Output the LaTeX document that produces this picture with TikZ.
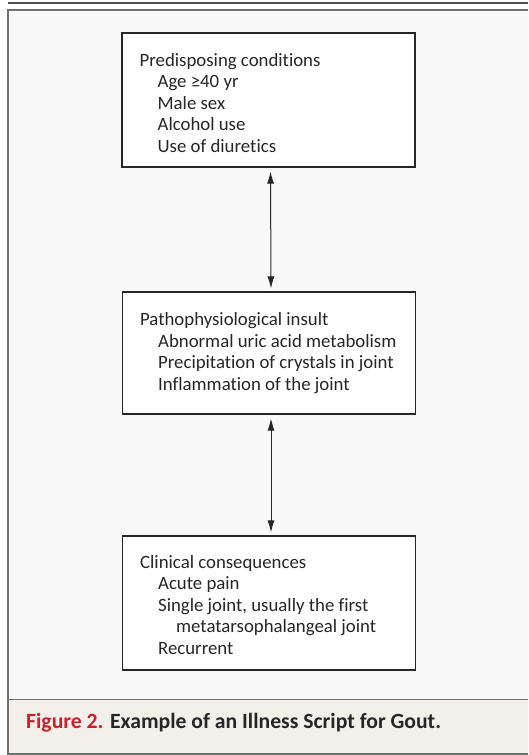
\documentclass[tikz,border=0pt]{standalone}
\usepackage{fontspec}
\setmainfont{Carlito}[Ligatures=NoCommon]
\usepackage{xcolor}
\usetikzlibrary{positioning, arrows.meta}

\definecolor{panelgray}{HTML}{F8F8F8}
\definecolor{captionbg}{HTML}{F3F0EA}
\definecolor{framegray}{HTML}{707070}
\definecolor{figred}{HTML}{C8202E}
\definecolor{inkdark}{HTML}{262626}

\tikzset{
  scriptbox/.style={draw=inkdark, line width=1.1pt, fill=white, minimum width=293pt},
  boxtext/.style={inner sep=0pt, align=left, text=inkdark,
    font=\fontsize{18.8}{21.5}\selectfont},
  linkarrow/.style={<->, >={Latex[length=12pt, width=7pt]}, line width=1pt,
    draw=inkdark, shorten >=3pt, shorten <=4pt},
}
\newcommand{\ind}{\hspace*{18pt}}

\begin{document}
\begin{tikzpicture}[x=1pt, y=-1pt]
        \useasboundingbox (0,0) rectangle (528,755);
        % panel and caption strip
        \fill[panelgray] (8,10) rectangle (528,699);
        \fill[captionbg] (8,699) rectangle (528,754);
        \draw[framegray, line width=1.5pt] (528,10) -- (8,10) -- (8,754) -- (528,754);
        \draw[framegray, line width=1pt] (8,699) -- (528,699);
        \draw[inkdark!80, line width=2pt] (8,3) -- (528,3);

        % boxes
        \node[scriptbox, minimum height=134pt] (predisp) at (268.5,100) {};
        \node[scriptbox, minimum height=122pt] (insult) at (269,353) {};
        \node[scriptbox, minimum height=134pt] (conseq) at (269,603) {};

        \node[boxtext, right=18pt of predisp.west, yshift=-3pt] (predisptext)
            {Predisposing conditions\\ \ind Age ≥40 yr\\ \ind Male sex\\ \ind Alcohol use\\ \ind Use of diuretics};
        \node[boxtext, right=18pt of insult.west] (insulttext)
            {Pathophysiological insult\\ \ind Abnormal uric acid metabolism\\ \ind Precipitation of crystals in joint\\ \ind Inflammation of the joint};
        \node[boxtext, right=18pt of conseq.west, yshift=-2pt] (conseqtext)
            {Clinical consequences\\ \ind Acute pain\\ \ind Single joint, usually the first\\ \ind\ind metatarsophalangeal joint\\ \ind Recurrent};

        \draw[linkarrow] ([xshift=2pt]predisp.south) -- ([xshift=2pt]insult.north);
        \draw[linkarrow] ([xshift=2pt]insult.south) -- ([xshift=2pt]conseq.north);

        \node[anchor=base west, inner sep=0pt, text=inkdark, font=\fontsize{21.7}{24}\selectfont\bfseries] (caption) at (26,728)
            {\textcolor{figred}{Figure 2.} Example of an Illness Script for Gout.};
    \end{tikzpicture}
\end{document}
